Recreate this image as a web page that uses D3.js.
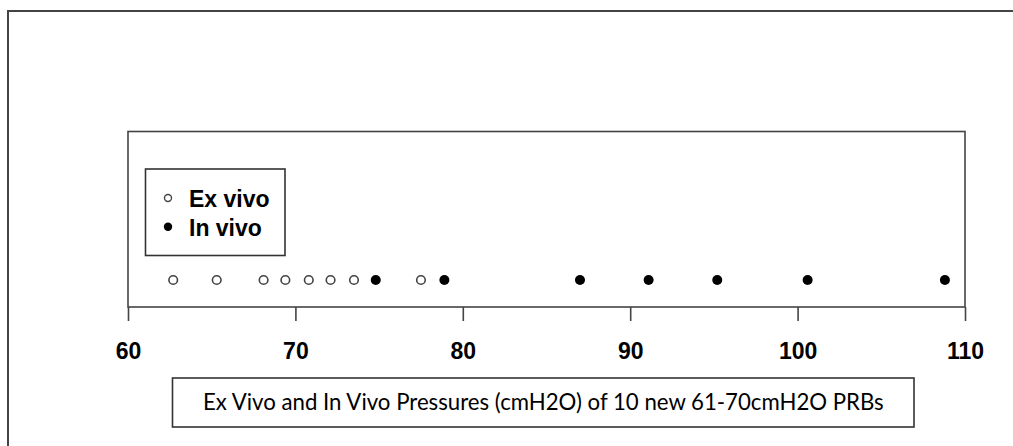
<!DOCTYPE html>
<meta charset="utf-8">
<style>
    body { margin: 0; background: #fff; }
    .tick-label { font-family: "Liberation Sans", Arial, sans-serif; font-weight: bold; font-size: 23px; }
    .legend-text { font-family: "Liberation Sans", Arial, sans-serif; font-weight: bold; font-size: 23px; }
    .title-text { font-family: Lato, "Open Sans", sans-serif; font-size: 20px; }
</style>
<body>
<div id="chart"></div>
<script src="https://d3js.org/d3.v7.min.js"></script>
<script>
    // values (cmH2O)
    var exVivo = [62.7, 65.3, 68.1, 69.4, 70.8, 72.1, 73.5, 77.5];
    var inVivo = [74.8, 78.9, 87.0, 91.1, 95.2, 100.6, 108.8];
    var tickValues = [60, 70, 80, 90, 100, 110];
    var legendLabels = ["Ex vivo", "In vivo"];
    var titleText = "Ex Vivo and In Vivo Pressures (cmH2O) of 10 new 61-70cmH2O PRBs";

    var width = 1013,
        height = 446;

    var plot = { left: 128, right: 965, top: 131.5, bottom: 307 },
        pointY = 280;

    var svg = d3.select("#chart").append("svg")
        .attr("width", width)
        .attr("height", height);

    // outer frame (only top and left edges show)
    svg.append("path")
        .attr("d", "M8," + height + "V11H" + width)
        .attr("fill", "none")
        .attr("stroke", "#444")
        .attr("stroke-width", 2);

    var x = d3.scaleLinear()
        .domain([60, 110])
        .range([plot.left, plot.right]);

    // plot box
    svg.append("rect")
        .attr("x", plot.left)
        .attr("y", plot.top)
        .attr("width", plot.right - plot.left)
        .attr("height", plot.bottom - plot.top)
        .attr("fill", "none")
        .attr("stroke", "#444")
        .attr("stroke-width", 1.6);

    // axis
    var axis = svg.append("g")
        .attr("transform", "translate(0," + plot.bottom + ")")
        .call(d3.axisBottom(x).tickValues(tickValues).tickSize(14).tickPadding(22).tickFormat(d3.format("d")));
    axis.select(".domain").remove();
    axis.selectAll("line").attr("stroke", "#444").attr("stroke-width", 1.6);
    axis.selectAll("text")
        .attr("class", "tick-label")
        .attr("fill", "#000")
        .attr("dy", null)
        .attr("y", 52);

    // points
    svg.selectAll(".ex")
        .data(exVivo)
        .enter().append("circle")
        .attr("class", "ex")
        .attr("cx", function (d) { return x(d); })
        .attr("cy", pointY)
        .attr("r", 4.3)
        .attr("fill", "#fff")
        .attr("stroke", "#444")
        .attr("stroke-width", 1.6);

    svg.selectAll(".in")
        .data(inVivo)
        .enter().append("circle")
        .attr("class", "in")
        .attr("cx", function (d) { return x(d); })
        .attr("cy", pointY)
        .attr("r", 5)
        .attr("fill", "#000");

    // legend
    var legend = svg.append("g");
    legend.append("rect")
        .attr("x", 145.5)
        .attr("y", 169)
        .attr("width", 139.5)
        .attr("height", 86.5)
        .attr("fill", "#fff")
        .attr("stroke", "#333")
        .attr("stroke-width", 1.6);

    var item = legend.selectAll(".item")
        .data(legendLabels)
        .enter().append("g")
        .attr("transform", function (d, i) { return "translate(0," + (198 + i * 28.7) + ")"; });

    item.append("circle")
        .attr("cx", 168)
        .attr("cy", 0)
        .attr("r", function (d, i) { return i ? 4.2 : 3.5; })
        .attr("fill", function (d, i) { return i ? "#000" : "#fff"; })
        .attr("stroke", function (d, i) { return i ? "none" : "#444"; })
        .attr("stroke-width", 1.4);

    item.append("text")
        .attr("class", "legend-text")
        .attr("x", 189)
        .attr("y", 9)
        .text(function (d) { return d; });

    // title box
    svg.append("rect")
        .attr("x", 172.5)
        .attr("y", 378)
        .attr("width", 741.5)
        .attr("height", 49)
        .attr("fill", "#fff")
        .attr("stroke", "#333")
        .attr("stroke-width", 1.6);

    var title = svg.append("text")
        .attr("class", "title-text")
        .attr("x", (172.5 + 914) / 2)
        .attr("y", 410)
        .attr("text-anchor", "middle")
        .text(titleText);

    // size the title to the width seen in the picture
    var w = title.node().getComputedTextLength();
    title.style("font-size", (20 * 681 / w) + "px");
</script>
</body>
